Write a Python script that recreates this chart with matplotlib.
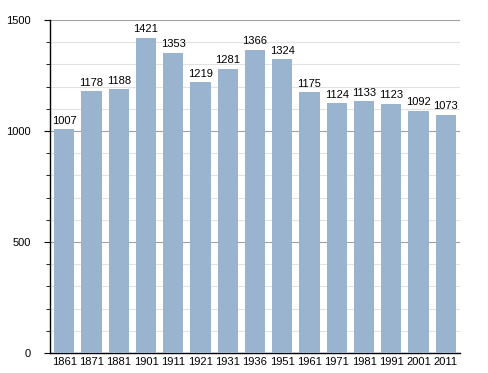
import matplotlib
matplotlib.use("Agg")
import matplotlib.pyplot as plt
from matplotlib.ticker import MultipleLocator

years = ["1861", "1871", "1881", "1901", "1911", "1921", "1931", "1936",
         "1951", "1961", "1971", "1981", "1991", "2001", "2011"]
population = [1007, 1178, 1188, 1421, 1353, 1219, 1281, 1366,
              1324, 1175, 1124, 1133, 1123, 1092, 1073]

plt.rcParams['font.family'] = ['Liberation Sans', 'DejaVu Sans']

fig = plt.figure(figsize=(4.88, 3.73), dpi=100)
ax = fig.add_axes([0.1025, 0.0536, 0.8401, 0.8928])

x = range(len(years))
ax.bar(x, population, width=0.74, color='#9ab3cf', zorder=3)

for i, v in enumerate(population):
    ax.text(i, v + 15, str(v), ha='center', va='bottom', fontsize=8, zorder=4)

ax.set_xlim(-0.52, len(years) - 0.48)
ax.set_ylim(0, 1500)
ax.set_xticks(list(x))
ax.set_xticklabels(years, fontsize=8)
ax.set_yticks([0, 500, 1000, 1500])
ax.set_yticklabels(['0', '500', '1000', '1500'], fontsize=8)
ax.yaxis.set_minor_locator(MultipleLocator(100))

ax.grid(axis='y', which='major', color='#a0a0a0', linewidth=0.8, zorder=1)
ax.grid(axis='y', which='minor', color='#e2e2e2', linewidth=0.8, zorder=1)

ax.spines['top'].set_visible(False)
ax.spines['right'].set_visible(False)
ax.spines['left'].set_linewidth(1.0)
ax.spines['bottom'].set_linewidth(1.0)
ax.tick_params(axis='x', length=0, pad=3)
ax.tick_params(axis='y', which='major', length=4, pad=10)
ax.tick_params(axis='y', which='minor', length=3)

fig.savefig("out.png", dpi=100)
